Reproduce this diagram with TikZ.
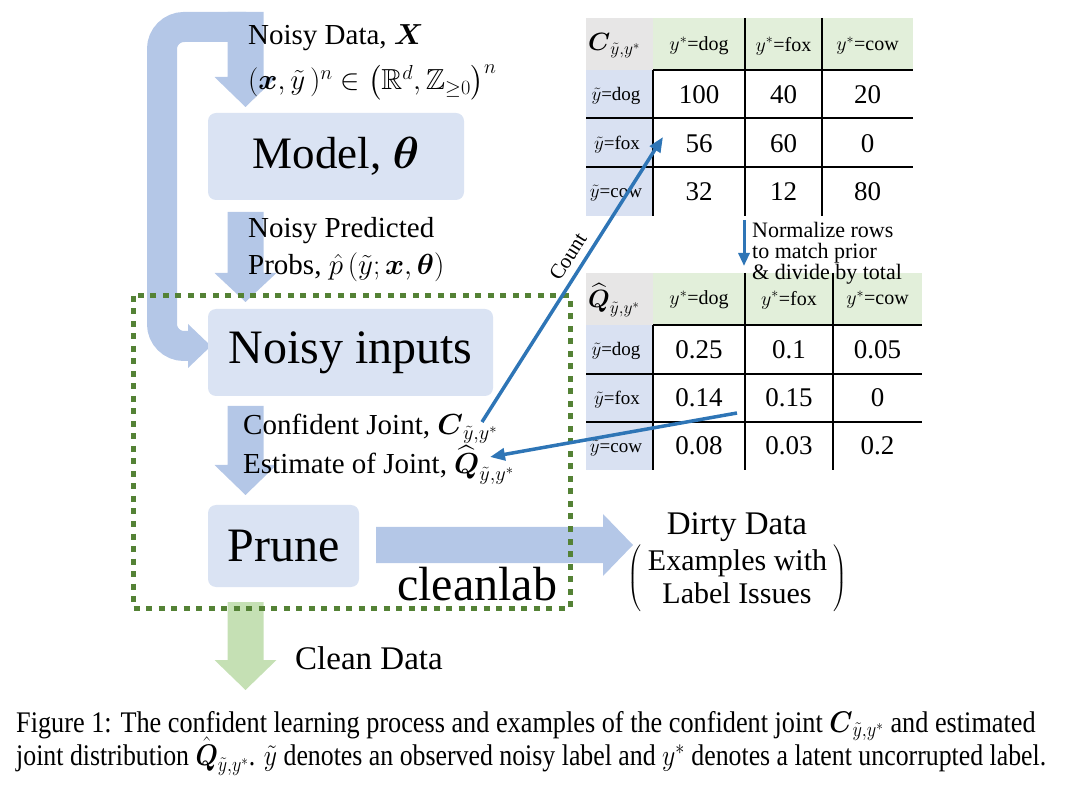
\documentclass[tikz,border=0pt]{standalone}
\usepackage{fix-cm}
\usepackage{amsmath,amssymb}
\DeclareFontFamily{U}{msb}{}
\DeclareFontShape{U}{msb}{m}{n}{<->msbm10}{}
\usepackage{fontspec}
\setmainfont{Liberation Serif}
\usetikzlibrary{arrows.meta}
\definecolor{arrowblue}{HTML}{B4C7E7}
\definecolor{boxblue}{HTML}{DAE3F3}
\definecolor{arrowgreen}{HTML}{C5E0B4}
\definecolor{dotgreen}{HTML}{548235}
\definecolor{hdrgreen}{HTML}{E2EFDA}
\definecolor{leftblue}{HTML}{D9E1F2}
\definecolor{cornergray}{HTML}{E7E6E6}
\definecolor{lineblue}{HTML}{2E75B6}
\newcommand{\fsz}[1]{\fontsize{#1}{#1}\selectfont}
\newcommand{\blockdown}[4]{\fill[#1] (227.5,#2) -- (263.5,#2) -- (263.5,#3) -- (276.5,#3) -- (245.5,#4) -- (214.5,#3) -- (227.5,#3) -- cycle;}
\begin{document}
\begin{tikzpicture}[x=1pt,y=-1pt,
  box/.style={fill=boxblue, rounded corners=8pt, inner sep=0pt},
  lbl/.style={anchor=base west, inner sep=0pt},
  ctr/.style={anchor=base, inner sep=0pt},
  cell/.style={inner sep=0pt, font=\fsz{27}},
  hdr/.style={inner sep=0pt, font=\fsz{20}},
  lft/.style={inner sep=0pt, font=\fsz{19}},
  tline/.style={line width=2pt, black},
  blueln/.style={draw=lineblue, line width=3.5pt, -{Triangle[length=15pt,width=12pt]}},
  dotbox/.style={draw=dotgreen, line width=5pt, dash pattern=on 6pt off 6.5pt}
]
\path[use as bounding box] (0,0) rectangle (1077,791);

% ---- block arrows ----
\draw[arrowblue, line width=30pt, rounded corners=22pt] (189,346) -- (162,346) -- (162,27) -- (246,27);
\fill[arrowblue] (188,324) -- (211,346) -- (188,368) -- cycle;
\blockdown{arrowblue}{12}{77}{107}
\blockdown{arrowblue}{212}{273}{302}
\blockdown{arrowblue}{406}{465}{495}
\blockdown{arrowgreen}{602}{660}{690}
\fill[arrowblue] (376,527) -- (603,527) -- (603,514) -- (633,545) -- (603,576) -- (603,563) -- (376,563) -- cycle;

% ---- boxes ----
\node[box, minimum width=256pt, minimum height=87pt, font=\fsz{45}] (model) at (336,156.5) {Model, $\boldsymbol{\theta}$};
\node[box, minimum width=285pt, minimum height=87pt, font=\fsz{48}] (noisy) at (350.5,352.5) {Noisy inputs};
\node[box, minimum width=151pt, minimum height=82pt, font=\fsz{48}] (prune) at (283.5,546) {Prune};

% ---- labels ----
\node[lbl, font=\fsz{29}] (nd1) at (248,45) {Noisy Data, $\boldsymbol{X}$};
\node[lbl, font=\fsz{29}] (nd2) at (248,90) {$(\boldsymbol{x},\tilde{y}\,)^n\in\left(\mathbb{R}^d,\mathbb{Z}_{\geq 0}\right)^n$};
\node[lbl, font=\fsz{29}] (np1) at (248,238) {Noisy Predicted};
\node[lbl, font=\fsz{29}] (np2) at (248,275) {Probs, $\hat{p}\,(\tilde{y};\boldsymbol{x},\boldsymbol{\theta})$};
\node[lbl, font=\fsz{29}] (cj) at (243,435) {Confident Joint, $\boldsymbol{C}_{\tilde{y},y^*}$};
\node[lbl, font=\fsz{29}] (ej) at (243,474) {Estimate of Joint, $\widehat{\boldsymbol{Q}}_{\tilde{y},y^*}$};
\node[lbl, font=\fsz{48}] (cl) at (397,600) {cleanlab};
\node[lbl, font=\fsz{33}] (clean) at (295,669) {Clean Data};
\node[ctr, font=\fsz{33}] (dirty) at (737,535) {Dirty Data};
\node[ctr, font=\fsz{30}] (ex1) at (737.5,570) {Examples with};
\node[ctr, font=\fsz{30}] (ex2) at (737,603) {Label Issues};
\node[inner sep=0pt, font=\fsz{16}] (lp) at (635,579) {$\left(\vrule height 31pt depth 31pt width 0pt\right.$};
\node[inner sep=0pt, font=\fsz{16}] (rp) at (840,579) {$\left.\vrule height 31pt depth 31pt width 0pt\right)$};

% ---- table C ----
\fill[cornergray] (586,18) rectangle (653,70);
\fill[hdrgreen] (653,18) rectangle (913,70);
\fill[leftblue] (586,70) rectangle (653,216);
\draw[tline] (653,70) -- (653,216);
\draw[tline] (745,18) -- (745,216);
\draw[tline] (822,18) -- (822,216);
\draw[tline] (653,70) -- (913,70);
\draw[tline] (586,118) -- (913,118);
\draw[tline] (586,167) -- (913,167);
\node[inner sep=0pt, anchor=west, font=\fsz{25}] (cc) at (588,46) {$\boldsymbol{C}_{\tilde{y},y^*}$};
\node[hdr] (ch1) at (699,46) {$y^*$=dog};
\node[hdr] (ch2) at (783.5,46) {$y^*$=fox};
\node[hdr] (ch3) at (867.5,46) {$y^*$=cow};
\node[lft] (cr1) at (616,96) {$\tilde{y}$=dog};
\node[lft] (cr2) at (617,145) {$\tilde{y}$=fox};
\node[lft] (cr3) at (616,193) {$\tilde{y}$=cow};
\node[cell] (c11) at (699,95) {100};
\node[cell] (c12) at (783.5,95) {40};
\node[cell] (c13) at (867.5,95) {20};
\node[cell] (c21) at (699,143.5) {56};
\node[cell] (c22) at (783.5,143.5) {60};
\node[cell] (c23) at (867.5,143.5) {0};
\node[cell] (c31) at (699,192) {32};
\node[cell] (c32) at (783.5,192) {12};
\node[cell] (c33) at (867.5,192) {80};

% ---- table Q ----
\fill[cornergray] (586,273) rectangle (653,325);
\fill[hdrgreen] (653,273) rectangle (922,325);
\fill[leftblue] (586,325) rectangle (653,470);
\draw[tline] (653,325) -- (653,470);
\draw[tline] (745,273) -- (745,470);
\draw[tline] (833,273) -- (833,470);
\draw[tline] (653,325) -- (922,325);
\draw[tline] (586,374) -- (922,374);
\draw[tline] (586,422) -- (922,422);
\node[inner sep=0pt, anchor=west, font=\fsz{25}] (qc) at (588,300) {$\widehat{\boldsymbol{Q}}_{\tilde{y},y^*}$};
\node[hdr] (qh1) at (699,300) {$y^*$=dog};
\node[hdr] (qh2) at (789,300) {$y^*$=fox};
\node[hdr] (qh3) at (877.5,300) {$y^*$=cow};
\node[lft] (qr1) at (616,351) {$\tilde{y}$=dog};
\node[lft] (qr2) at (617,400) {$\tilde{y}$=fox};
\node[lft] (qr3) at (616,448) {$\tilde{y}$=cow};
\node[cell] (q11) at (699,349.5) {0.25};
\node[cell] (q12) at (789,349.5) {0.1};
\node[cell] (q13) at (877.5,349.5) {0.05};
\node[cell] (q21) at (699,398) {0.14};
\node[cell] (q22) at (789,398) {0.15};
\node[cell] (q23) at (877.5,398) {0};
\node[cell] (q31) at (699,446) {0.08};
\node[cell] (q32) at (789,446) {0.03};
\node[cell] (q33) at (877.5,446) {0.2};

% ---- normalize ----
\node[lbl, font=\fsz{22}] (nr1) at (752,238) {Normalize rows};
\node[lbl, font=\fsz{22}] (nr2) at (752,259) {to match prior};
\node[lbl, font=\fsz{22}] (nr3) at (752,280) {\& divide by total};
\coordinate (ntop) at (744,220);
\coordinate (nbot) at (744,266);
\draw[draw=lineblue, line width=3pt, -{Triangle[length=13pt,width=11pt]}] (ntop) -- (nbot);

% ---- cleanlab dotted box ----
\draw[dotbox] (133,296) rectangle (570,608);

% ---- blue connectors ----
\coordinate (cjend) at (482,422);
\coordinate (c56tip) at (663,137);
\draw[blueln] (cjend) -- (c56tip) node[pos=0.55, sloped, above=4pt, font=\fsz{21}, text=black] (count) {Count};
\coordinate (qstart) at (737,413);
\coordinate (qtip) at (490,457);
\draw[blueln] (qstart) -- (qtip);

% ---- caption ----
\node[lbl, font=\fsz{26}] (cap1) at (16,732) {\scalebox{1.01}[1.15]{Figure 1: The confident learning process and examples of the confident joint $\boldsymbol{C}_{\tilde{y},y^*}$ and estimated}};
\node[lbl, font=\fsz{26}] (cap2) at (16,765) {\scalebox{0.993}[1.15]{joint distribution $\hat{\boldsymbol{Q}}_{\tilde{y},y^*}$. $\tilde{y}$ denotes an observed noisy label and $y^*$ denotes a latent uncorrupted label.}};
\end{tikzpicture}
\end{document}
